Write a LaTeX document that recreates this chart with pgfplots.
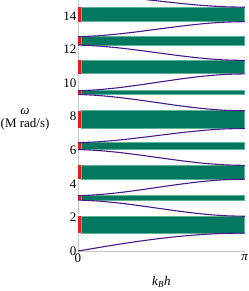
\documentclass[border=0pt]{standalone}
\usepackage{fontspec}
\setmainfont{Liberation Serif}
\usepackage{pgfplots}
\pgfplotsset{compat=1.18}
\definecolor{gapgreen}{RGB}{0,120,95}
\definecolor{gapedge}{RGB}{95,180,150}
\definecolor{gapred}{RGB}{228,30,36}
\definecolor{bandline}{RGB}{72,24,140}
\definecolor{frame}{RGB}{200,200,200}
\newcommand{\gap}[2]{%
  \addplot[fill=gapgreen, draw=gapedge, line width=0.8pt] coordinates {(0.06,#1) (3.14159,#1) (3.14159,#2) (0.06,#2)} -- cycle;
  \addplot[fill=gapred, draw=none] coordinates {(0,#1) (0.06,#1) (0.06,#2) (0,#2)} -- cycle;
}
\begin{document}
\fontsize{13}{12.6}\selectfont
\begin{tikzpicture}
\begin{axis}[
  at={(0,0)}, anchor=south west,
  scale only axis, width=167pt, height=251.2pt,
  xmin=0, xmax=3.14159, ymin=0, ymax=14.95,
  axis x line*=bottom, axis y line*=left,
  axis line style={frame, line width=0.6pt},
  xtick={0,3.14159}, xticklabels={0,\textit{π}},
  ytick={0,2,4,6,8,10,12,14},
  major tick length=0pt,
  /pgf/number format/assume math mode=true,
  tick label style={font=\fontsize{13}{13}\selectfont},
  yticklabel style={inner xsep=1.5pt},
  xticklabel style={inner ysep=3pt},
  xlabel={\textit{k}\textsubscript{\textit{B}}\textit{h}},
  xlabel style={at={(axis description cs:0.5,-0.122)}, anchor=center},
  ylabel={\textit{ω}\\(M rad/s)},
  ylabel style={rotate=-90, at={(axis description cs:-0.317,0.524)}, anchor=center, align=center, font=\fontsize{13}{12.6}\selectfont},
  clip=true,
]
% band gaps at k = pi (wide) and at k = 0 (narrow)
\gap{1.07}{2.07}
\gap{3.04}{3.29}
\gap{4.28}{5.10}
\gap{6.05}{6.45}
\gap{7.30}{8.35}
\gap{9.33}{9.54}
\gap{10.55}{11.35}
\gap{12.27}{12.76}
\gap{13.66}{14.52}
% dispersion branches
\addplot[bandline, line width=1.1pt, smooth] coordinates {(0,0) (0.3927,0.2088) (0.7854,0.4095) (1.1781,0.5945) (1.5708,0.7566) (1.9635,0.8897) (2.3562,0.9886) (2.7489,1.0495) (3.14159,1.07)};
\addplot[bandline, line width=1.1pt, smooth] coordinates {(0,3.04) (0.3927,2.9728) (0.7854,2.8523) (1.1781,2.6942) (1.5708,2.5186) (1.9635,2.3476) (2.3562,2.2031) (2.7489,2.1053) (3.14159,2.07)};
\addplot[bandline, line width=1.1pt, smooth] coordinates {(0,3.29) (0.3927,3.3586) (0.7854,3.4816) (1.1781,3.6429) (1.5708,3.8221) (1.9635,3.9967) (2.3562,4.1442) (2.7489,4.244) (3.14159,4.28)};
\addplot[bandline, line width=1.1pt, smooth] coordinates {(0,6.05) (0.3927,5.9842) (0.7854,5.8662) (1.1781,5.7113) (1.5708,5.5394) (1.9635,5.3719) (2.3562,5.2303) (2.7489,5.1346) (3.14159,5.10)};
\addplot[bandline, line width=1.1pt, smooth] coordinates {(0,6.45) (0.3927,6.5089) (0.7854,6.6145) (1.1781,6.753) (1.5708,6.9069) (1.9635,7.0567) (2.3562,7.1834) (2.7489,7.2691) (3.14159,7.30)};
\addplot[bandline, line width=1.1pt, smooth] coordinates {(0,9.33) (0.3927,9.2621) (0.7854,9.1404) (1.1781,8.9806) (1.5708,8.8032) (1.9635,8.6305) (2.3562,8.4845) (2.7489,8.3857) (3.14159,8.35)};
\addplot[bandline, line width=1.1pt, smooth] coordinates {(0,9.54) (0.3927,9.61) (0.7854,9.7354) (1.1781,9.9001) (1.5708,10.0829) (1.9635,10.2609) (2.3562,10.4114) (2.7489,10.5132) (3.14159,10.55)};
\addplot[bandline, line width=1.1pt, smooth] coordinates {(0,12.27) (0.3927,12.2062) (0.7854,12.092) (1.1781,11.942) (1.5708,11.7755) (1.9635,11.6133) (2.3562,11.4762) (2.7489,11.3835) (3.14159,11.35)};
\addplot[bandline, line width=1.1pt, smooth] coordinates {(0,12.76) (0.3927,12.8224) (0.7854,12.9342) (1.1781,13.0809) (1.5708,13.2438) (1.9635,13.4024) (2.3562,13.5365) (2.7489,13.6272) (3.14159,13.66)};
\addplot[bandline, line width=1.1pt, smooth] coordinates {(0,15.28) (0.3927,15.2273) (0.7854,15.1329) (1.1781,15.0091) (1.5708,14.8715) (1.9635,14.7375) (2.3562,14.6243) (2.7489,14.5477) (3.14159,14.52)};
\draw[frame, line width=0.6pt] (rel axis cs:1,0) -- (rel axis cs:1,1);
\end{axis}
\pgfresetboundingbox
\useasboundingbox (-78pt,-40pt) rectangle (171pt,251.2pt);
\end{tikzpicture}
\end{document}
